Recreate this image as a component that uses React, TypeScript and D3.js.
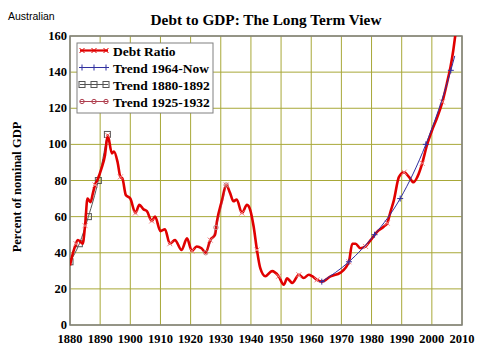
import React from "react";
import * as d3 from "d3";

// Debt ratio (percent of nominal GDP)
const debtYears = [
  1880, 1881, 1882, 1882.6, 1883.5, 1884.2, 1885, 1885.8, 1886.8, 1887.6, 1888.3, 1889,
  1890.5, 1891.6, 1892.5, 1893.9, 1894.6, 1895.8, 1896.7, 1897.4, 1898.5, 1900, 1901.7,
  1903, 1904.4, 1905.5, 1907.1, 1908.2, 1910, 1911.5, 1913.1, 1914.8, 1917, 1918.8,
  1920.4, 1922, 1923.6, 1925, 1926.5, 1928.1, 1928.7, 1930.4, 1931.8, 1933.1, 1934.2,
  1935.3, 1937, 1938.7, 1939.8, 1940.9, 1942, 1943.1, 1944.8, 1947, 1949.2, 1950.9,
  1952, 1953.7, 1955.9, 1957.5, 1959.2, 1960.3, 1961.9, 1963.5, 1966.4, 1969.7, 1972.5,
  1973.6, 1974.7, 1976.3, 1978, 1979.7, 1981.9, 1984.1, 1985.2, 1986.3, 1987.4, 1989.1,
  1990.8, 1992.4, 1993.9, 1995.2, 1996.8, 1998.4, 2000.1, 2001.7, 2003.5, 2005.1,
  2006.2, 2007.1, 2007.9,
];
const debtValues = [
  33, 40, 45, 47, 46, 45, 55, 70, 68, 73, 77.5, 80,
  87, 94, 105, 95, 96, 90, 82, 81, 72, 70, 62,
  66.5, 64, 63, 57.6, 60, 52, 53, 45, 47, 41.5, 48,
  41, 43.5, 42.5, 40, 47, 50, 57, 69, 77.5, 73, 68.5,
  69.5, 62, 66.5, 63.5, 54.5, 41.5, 31.5, 27, 29.8, 27, 22.3,
  25.8, 23.3, 27.8, 26, 27.8, 27, 25, 24, 26.9, 29, 35,
  45, 45, 42.5, 43.5, 47, 51.7, 54.5, 56.4, 62.8, 69, 82,
  84.6, 82, 79, 82, 89.5, 99.7, 108, 114.6, 123.5, 134.6,
  143, 152, 162,
];

// Trend 1964-Now
const trendNowYears = [1963.5, 1972.5, 1981, 1989.5, 1998, 2006.3, 2007.6];
const trendNowValues = [24, 35, 50, 70, 100, 141, 149];

// Trend 1880-1892
const trendEarlyYears = [1880, 1883.1, 1886.1, 1889.4, 1892.4];
const trendEarlyValues = [35, 45, 60, 80, 105.5];

// Trend 1925-1932
const trendMidYears = [1925, 1928.4, 1931.8];
const trendMidValues = [40, 54, 77.5];

const xTicks = d3.range(1880, 2011, 10);
const yTicks = d3.range(0, 161, 20);

const legendLabels = ["Debt Ratio", "Trend 1964-Now", "Trend 1880-1892", "Trend 1925-1932"];

const W = 490;
const H = 361;
const left = 70;
const right = 462;
const top = 36;
const bottom = 325;

const serif = "'Liberation Serif', 'Times New Roman', serif";

export default function App() {
  const x = d3.scaleLinear().domain([1880, 2010]).range([left, right]);
  const y = d3.scaleLinear().domain([0, 160]).range([bottom, top]);

  const line = d3
    .line<[number, number]>()
    .x((d) => x(d[0]))
    .y((d) => y(d[1]))
    .curve(d3.curveMonotoneX);

  const debt = debtYears.map((yr, i) => [yr, debtValues[i]] as [number, number]);
  const tNow = trendNowYears.map((yr, i) => [yr, trendNowValues[i]] as [number, number]);
  const tEarly = trendEarlyYears.map((yr, i) => [yr, trendEarlyValues[i]] as [number, number]);
  const tMid = trendMidYears.map((yr, i) => [yr, trendMidValues[i]] as [number, number]);

  const red = "#e00000";
  const blue = "#3030a0";
  const gray = "#555";
  const maroon = "#b04050";

  const lx = 77;
  const ly = 43;

  const xMark = (cx: number, cy: number, c: string, k: string | number) => (
    <path key={k} d={`M${cx - 2.5},${cy - 2.5}L${cx + 2.5},${cy + 2.5}M${cx - 2.5},${cy + 2.5}L${cx + 2.5},${cy - 2.5}`} stroke={c} strokeWidth={1} fill="none" />
  );
  const plusMark = (cx: number, cy: number, c: string, k: string | number) => (
    <path key={k} d={`M${cx - 3},${cy}L${cx + 3},${cy}M${cx},${cy - 3}L${cx},${cy + 3}`} stroke={c} strokeWidth={1} fill="none" />
  );
  const sqMark = (cx: number, cy: number, c: string, k: string | number) => (
    <rect key={k} x={cx - 3} y={cy - 3} width={6} height={6} fill="none" stroke={c} strokeWidth={1} />
  );
  const circMark = (cx: number, cy: number, c: string, k: string | number) => (
    <circle key={k} cx={cx} cy={cy} r={2.2} fill="none" stroke={c} strokeWidth={1} />
  );

  const legendItems = [
    { color: red, width: 2.2, mark: xMark },
    { color: blue, width: 1, mark: plusMark },
    { color: gray, width: 1, mark: sqMark },
    { color: maroon, width: 1, mark: circMark },
  ];

  return (
    <svg width={W} height={H} style={{ position: "absolute", left: 0, top: 0, background: "#fff" }}>
      <defs>
        <clipPath id="plot">
          <rect x={left} y={top} width={right - left} height={bottom - top} />
        </clipPath>
      </defs>
      <text x={8} y={20} fontFamily="'Liberation Sans', Arial, sans-serif" fontSize={10.5} fill="#000">
        Australian
      </text>
      <text x={266} y={25} textAnchor="middle" fontFamily={serif} fontWeight="bold" fontSize={15.3} fill="#000">
        Debt to GDP: The Long Term View
      </text>

      {/* grid */}
      {xTicks.map((t) => (
        <line key={"gx" + t} x1={x(t)} x2={x(t)} y1={top} y2={bottom} stroke="#a8a838" strokeWidth={1} />
      ))}
      {yTicks.map((t) => (
        <line key={"gy" + t} x1={left} x2={right} y1={y(t)} y2={y(t)} stroke="#a8a838" strokeWidth={1} />
      ))}
      <rect x={left} y={top} width={right - left} height={bottom - top} fill="none" stroke="#808080" strokeWidth={1.5} />

      {/* tick labels */}
      {xTicks.map((t) => (
        <text key={"tx" + t} x={x(t)} y={343} textAnchor="middle" fontFamily={serif} fontWeight="bold" fontSize={12.5} fill="#000">
          {t}
        </text>
      ))}
      {yTicks.map((t) => (
        <text key={"ty" + t} x={67} y={y(t) + 4} textAnchor="end" fontFamily={serif} fontWeight="bold" fontSize={12.5} fill="#000">
          {t}
        </text>
      ))}
      <text
        transform={`translate(21,187) rotate(-90)`}
        textAnchor="middle"
        fontFamily={serif}
        fontWeight="bold"
        fontSize={12.5}
        fill="#000"
      >
        Percent of nominal GDP
      </text>

      <g clipPath="url(#plot)">
        <path d={line(tEarly) || ""} fill="none" stroke={gray} strokeWidth={1} />
        {tEarly.map((d, i) => sqMark(x(d[0]), y(d[1]), gray, "te" + i))}
        <path d={line(debt) || ""} fill="none" stroke={red} strokeWidth={2.6} strokeLinejoin="round" />
        {debt.filter((_, i) => i % 4 === 2).map((d, i) => xMark(x(d[0]), y(d[1]), "#f08080", "dm" + i))}
        <path d={line(tMid) || ""} fill="none" stroke={maroon} strokeWidth={0.8} opacity={0.6} />
        {tMid.map((d, i) => circMark(x(d[0]), y(d[1]), "#c08080", "tm" + i))}
        <path d={line(tNow) || ""} fill="none" stroke={blue} strokeWidth={1} />
        {tNow.slice(0, -1).map((d, i) => plusMark(x(d[0]), y(d[1]), blue, "tn" + i))}
      </g>

      {/* legend */}
      <rect x={lx} y={ly} width={136} height={70} fill="#fff" stroke="#808080" strokeWidth={1} />
      {legendLabels.map((label, i) => {
        const it = legendItems[i];
        const cy = ly + 7.5 + i * 17;
        return (
          <g key={label}>
            <line x1={lx + 3} x2={lx + 31} y1={cy} y2={cy} stroke={it.color} strokeWidth={it.width} />
            {[lx + 5, lx + 17, lx + 29].map((mx, j) => it.mark(mx, cy, it.color, label + j))}
            <text x={lx + 36} y={cy + 5} fontFamily={serif} fontWeight="bold" fontSize={13.5} fill="#000">
              {label}
            </text>
          </g>
        );
      })}
    </svg>
  );
}
